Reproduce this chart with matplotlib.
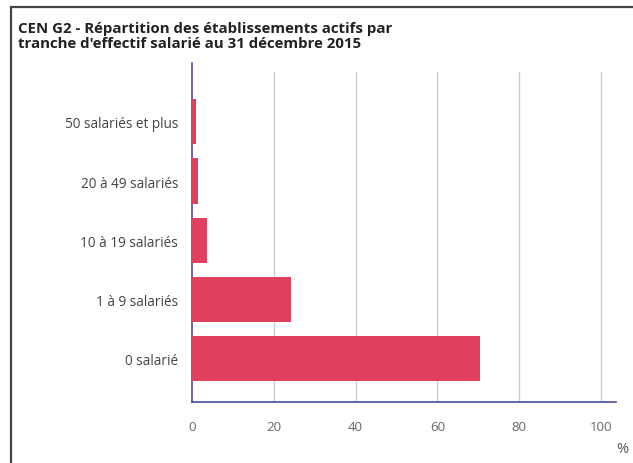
import numpy as np
import matplotlib.pyplot as plt
from matplotlib.patches import Rectangle

plt.rc('font', family=['Open Sans', 'DejaVu Sans'])

categories = ["50 salariés et plus", "20 à 49 salariés", "10 à 19 salariés",
              "1 à 9 salariés", "0 salarié"]
values = [1.1, 1.4, 3.7, 24.2, 70.4]
xticks = [0, 20, 40, 60, 80, 100]

title = ("CEN G2 - Répartition des établissements actifs par\n"
         "tranche d'effectif salarié au 31 décembre 2015")

fig = plt.figure(figsize=(6.33, 4.64), dpi=100)
W, H = 633, 464
ax = fig.add_axes([192 / W, 1 - 403 / H, (616 - 192) / W, (403 - 73) / H])

# frame around the whole chart
fig.patches.append(Rectangle((11 / W, -0.05), 1.1, 1 - 8 / H + 0.05,
                             transform=fig.transFigure, fill=False,
                             edgecolor='#444444', linewidth=1.6))

ypos = np.arange(len(categories))[::-1]
ax.barh(ypos, values, height=0.76, color='#e0405e', zorder=3)

ax.set_xlim(0, 103.7)
ax.set_ylim(-0.73, 4.84)
ax.set_yticks(ypos)
ax.set_yticklabels(categories, fontsize=9.8, color='#444444')
ax.set_xticks(xticks)
ax.set_xticklabels([str(t) for t in xticks], fontsize=9.5, color='#666666')
ax.tick_params(axis='both', length=0)
ax.tick_params(axis='y', pad=10)
ax.tick_params(axis='x', pad=13)

for t in xticks[1:]:
    ax.axvline(t, color='#cccccc', linewidth=1, zorder=1)

for s in ['top', 'right']:
    ax.spines[s].set_visible(False)
ax.spines['left'].set_color('#4a4aa8')
ax.spines['bottom'].set_color('#4a4aa8')
ax.spines['left'].set_linewidth(1.2)
ax.spines['bottom'].set_linewidth(1.2)
ax.spines['left'].set_bounds(-0.73, 5.0)
ax.spines['left'].set_clip_on(False)

fig.text(18 / W, 1 - 22 / H, title, fontsize=10.8, fontweight='bold',
         va='top', ha='left', color='#222222', linespacing=1.1)
fig.text(622 / W, 1 - 450 / H, "%", fontsize=10.5, color='#555555',
         ha='center', va='center')

fig.savefig("out.png", dpi=100)
